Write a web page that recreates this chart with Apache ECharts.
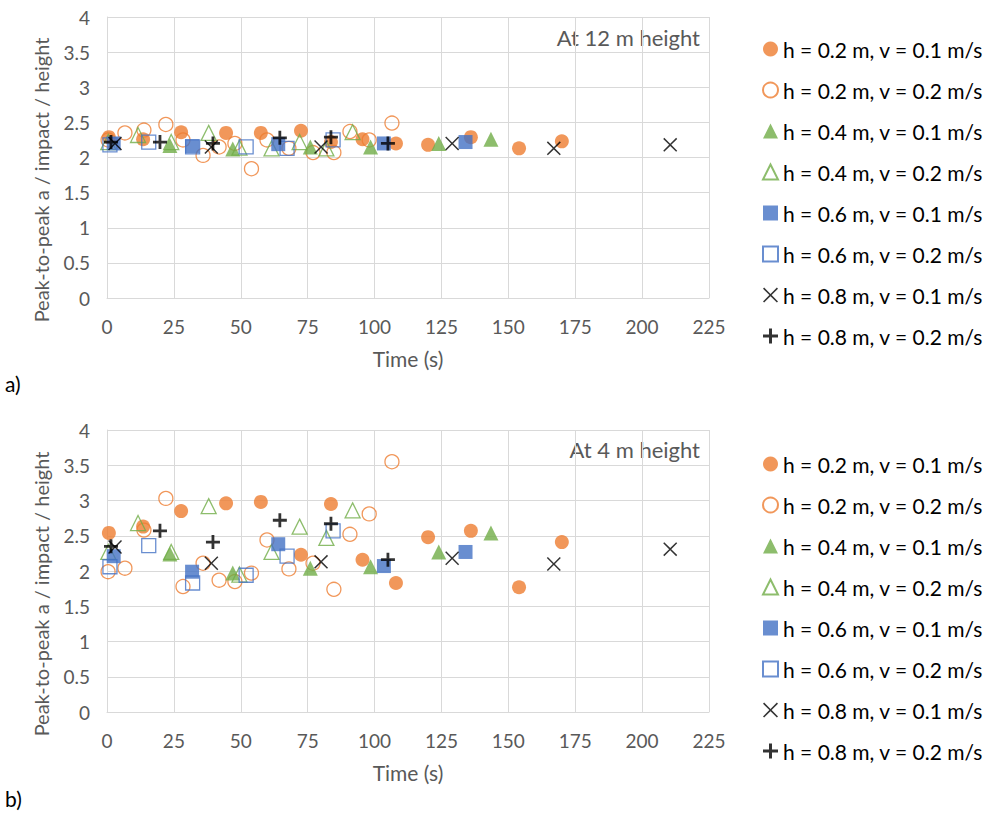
<!DOCTYPE html>
<html>
<head>
<meta charset="utf-8">
<script src="https://cdn.jsdelivr.net/npm/echarts@6/dist/echarts.min.js"></script>
<style>
html,body{margin:0;padding:0;background:#fff;}
#c{width:995px;height:813px;}
</style>
</head>
<body>
<div id="c"></div>
<script>
// ---- data ----
var seriesNames = [
  'h = 0.2 m, v = 0.1 m/s',
  'h = 0.2 m, v = 0.2 m/s',
  'h = 0.4 m, v = 0.1 m/s',
  'h = 0.4 m, v = 0.2 m/s',
  'h = 0.6 m, v = 0.1 m/s',
  'h = 0.6 m, v = 0.2 m/s',
  'h = 0.8 m, v = 0.1 m/s',
  'h = 0.8 m, v = 0.2 m/s'
];
var xTicks = [0, 25, 50, 75, 100, 125, 150, 175, 200, 225];
var yTicks = [0, 0.5, 1, 1.5, 2, 2.5, 3, 3.5, 4];
var yTitle = 'Peak-to-peak a / impact / height';
var xTitle = 'Time (s)';

// h=0.2, v=0.1
var t_o1   = [0.7, 13.5, 27.7, 44.5, 57.5, 72.5, 83.7, 95.5, 108, 120, 136, 154, 170];
var a12_o1 = [2.29, 2.26, 2.36, 2.35, 2.35, 2.38, 2.22, 2.26, 2.2, 2.18, 2.29, 2.13, 2.23];
var a4_o1  = [2.54, 2.63, 2.85, 2.96, 2.98, 2.23, 2.95, 2.16, 1.83, 2.48, 2.57, 1.77, 2.41];
// h=0.2, v=0.2
var t_o2   = [0.4, 6.7, 13.8, 22, 28.4, 35.9, 41.9, 47.8, 54, 59.8, 68, 77, 84.8, 90.8, 98, 106.5];
var a12_o2 = [2.25, 2.35, 2.39, 2.47, 2.25, 2.03, 2.15, 2.2, 1.84, 2.25, 2.13, 2.07, 2.07, 2.37, 2.25, 2.49];
var a4_o2  = [1.99, 2.04, 2.58, 3.03, 1.78, 2.11, 1.87, 1.85, 1.97, 2.44, 2.03, 2.11, 1.74, 2.52, 2.81, 3.55];
// h=0.4, v=0.1
var t_g1   = [23.5, 47, 76, 98.5, 124, 143.5];
var a12_g1 = [2.17, 2.12, 2.15, 2.15, 2.2, 2.26];
var a4_g1  = [2.24, 1.97, 2.04, 2.06, 2.27, 2.54];
// h=0.4, v=0.2
var t_g2   = [0.5, 11.6, 24, 38, 49.5, 61.5, 72, 82, 91.8];
var a12_g2 = [2.22, 2.32, 2.22, 2.35, 2.14, 2.13, 2.22, 2.13, 2.36];
var a4_g2  = [2.27, 2.68, 2.27, 2.92, 1.95, 2.27, 2.63, 2.47, 2.86];
// h=0.6, v=0.1
var t_b1   = [2.5, 31.8, 64, 103.5, 134];
var a12_b1 = [2.2, 2.16, 2.19, 2.2, 2.22];
var a4_b1  = [2.21, 1.99, 2.38, 2.07, 2.27];
// h=0.6, v=0.2
var t_b2   = [1.1, 15.6, 32, 52, 67.3, 84.5];
var a12_b2 = [2.18, 2.22, 2.15, 2.15, 2.13, 2.25];
var a4_b2  = [2.06, 2.36, 1.83, 1.94, 2.21, 2.57];
// h=0.8, v=0.1
var t_x1   = [3, 39, 80, 129, 167, 210.5];
var a12_x1 = [2.2, 2.15, 2.15, 2.2, 2.13, 2.18];
var a4_x1  = [2.34, 2.11, 2.13, 2.18, 2.1, 2.31];
// h=0.8, v=0.2
var t_p2   = [1.5, 19.8, 39.6, 64.6, 83.7, 105];
var a12_p2 = [2.22, 2.22, 2.2, 2.28, 2.29, 2.2];
var a4_p2  = [2.35, 2.57, 2.41, 2.72, 2.67, 2.16];

// ---- styles ----
var ORANGE = '#ED7D31', GREEN = '#70AD47', BLUE = '#4472C4', BLACK = '#000000';
var XPATH = 'path://M0,1.5 L1.5,0 L10,8.5 L18.5,0 L20,1.5 L11.5,10 L20,18.5 L18.5,20 L10,11.5 L1.5,20 L0,18.5 L8.5,10 Z';
var PPATH = 'path://M8,0 L12,0 L12,8 L20,8 L20,12 L12,12 L12,20 L8,20 L8,12 L0,12 L0,8 L8,8 Z';
var FONT = 'Lato';
var GREY = '#595959';

var styles = [
  {symbol:'circle', size:14, itemStyle:{color:ORANGE}},
  {symbol:'circle', size:14, itemStyle:{color:'rgba(255,255,255,0)', borderColor:ORANGE, borderWidth:1.3}},
  {symbol:'triangle', size:15, itemStyle:{color:GREEN}},
  {symbol:'triangle', size:15, itemStyle:{color:'rgba(255,255,255,0)', borderColor:GREEN, borderWidth:1.3}},
  {symbol:'rect', size:14, itemStyle:{color:BLUE}},
  {symbol:'rect', size:14, itemStyle:{color:'rgba(255,255,255,0)', borderColor:BLUE, borderWidth:1.3}},
  {symbol:XPATH, size:14, itemStyle:{color:BLACK}},
  {symbol:PPATH, size:14, itemStyle:{color:BLACK}}
];

function zip(xs, ys){ return xs.map(function(x,i){ return [x, ys[i]]; }); }

var top12 = [zip(t_o1,a12_o1), zip(t_o2,a12_o2), zip(t_g1,a12_g1), zip(t_g2,a12_g2),
             zip(t_b1,a12_b1), zip(t_b2,a12_b2), zip(t_x1,a12_x1), zip(t_p2,a12_p2)];
var bot4  = [zip(t_o1,a4_o1), zip(t_o2,a4_o2), zip(t_g1,a4_g1), zip(t_g2,a4_g2),
             zip(t_b1,a4_b1), zip(t_b2,a4_b2), zip(t_x1,a4_x1), zip(t_p2,a4_p2)];

var series = [];
[top12, bot4].forEach(function(set, gi){
  set.forEach(function(d, i){
    series.push({
      type:'scatter', name:seriesNames[i], xAxisIndex:gi, yAxisIndex:gi,
      data:d, symbol:styles[i].symbol, symbolSize:styles[i].size,
      itemStyle:styles[i].itemStyle, emphasis:{disabled:true}, animation:false
    });
  });
});

function xAx(gi){
  return {
    type:'value', gridIndex:gi, min:xTicks[0], max:xTicks[xTicks.length-1], interval:25,
    name:xTitle, nameLocation:'middle', nameGap:50,
    nameTextStyle:{fontFamily:FONT, fontSize:21, color:GREY},
    axisLine:{show:true, lineStyle:{color:'#D9D9D9'}}, axisTick:{show:false},
    axisLabel:{fontFamily:FONT, fontSize:19, color:GREY, margin:19},
    splitLine:{show:true, lineStyle:{color:'#D9D9D9'}}
  };
}
function yAx(gi){
  return {
    type:'value', gridIndex:gi, min:yTicks[0], max:yTicks[yTicks.length-1], interval:0.5,
    axisLine:{show:true, lineStyle:{color:'#D9D9D9'}}, axisTick:{show:false},
    axisLabel:{fontFamily:FONT, fontSize:19, color:GREY, margin:17},
    splitLine:{show:true, lineStyle:{color:'#D9D9D9'}}
  };
}
function legend(top){
  return {
    orient:'vertical', left:757, top:top, itemWidth:15, itemHeight:15, itemGap:19,
    data:seriesNames, selectedMode:false,
    textStyle:{fontFamily:FONT, fontSize:21, color:'#000', lineHeight:22}
  };
}
function yTitleText(cy){
  return {type:'text', x:41, y:cy, rotation:Math.PI/2, silent:true,
    style:{text:yTitle, fontFamily:FONT, fontSize:20, fill:GREY,
           align:'center', verticalAlign:'middle', width:1000, overflow:'truncate'}};
}

var chart = echarts.init(document.getElementById('c'), null, {renderer:'svg'});
chart.setOption({
  backgroundColor:'#fff',
  animation:false,
  grid:[
    {left:107, top:17, width:602, height:281},
    {left:107, top:430, width:602, height:282}
  ],
  xAxis:[xAx(0), xAx(1)],
  yAxis:[yAx(0), yAx(1)],
  legend:[legend(33), legend(448)],
  graphic:[
    yTitleText(180),
    yTitleText(594),
    {type:'text', right:295, top:26, style:{text:'At 12 m height', fontFamily:FONT, fontSize:22, fill:GREY}},
    {type:'text', right:295, top:438, style:{text:'At 4 m height', fontFamily:FONT, fontSize:22, fill:GREY}},
    {type:'text', left:5, top:373, style:{text:'a)', fontFamily:FONT, fontSize:21, fill:'#000'}},
    {type:'text', left:5, top:788, style:{text:'b)', fontFamily:FONT, fontSize:21, fill:'#000'}}
  ],
  series:series
});
</script>
</body>
</html>
